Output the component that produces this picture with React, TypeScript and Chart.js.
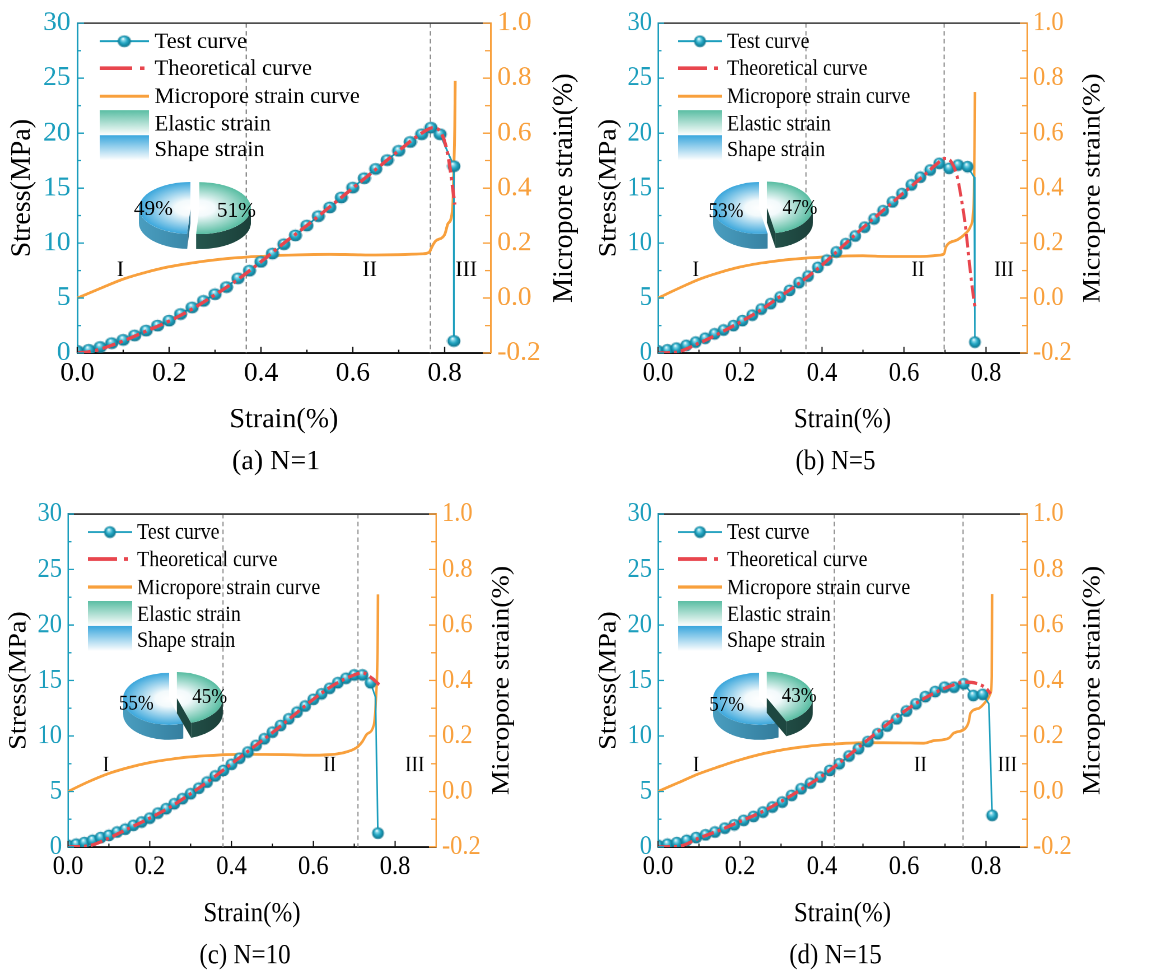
import React, { useEffect, useRef } from 'react';
import { Chart, registerables } from 'chart.js';

Chart.register(...registerables);

const TEAL = '#1c9ebd';
const ORANGE = '#f8a03d';
const RED = '#e8464e';
const SERIF = '"Liberation Serif", "Times New Roman", serif';

// shared tick labels
const strainTicks = [0.0, 0.2, 0.4, 0.6, 0.8];
const stressTicks = [0, 5, 10, 15, 20, 25, 30];
const poreTicks = [-0.2, 0.0, 0.2, 0.4, 0.6, 0.8, 1.0];
const stageNames = ['I', 'II', 'III'];

// (a) N=1
const testStrainA = [0, 0.025, 0.05, 0.075, 0.1, 0.125, 0.15, 0.175, 0.2, 0.225, 0.25, 0.275, 0.3, 0.325, 0.35, 0.375, 0.4, 0.425, 0.45, 0.475, 0.5, 0.525, 0.55, 0.575, 0.6, 0.625, 0.65, 0.675, 0.7, 0.725, 0.75, 0.77, 0.79, 0.82, 0.82];
const testStressA = [0.2, 0.3, 0.55, 0.9, 1.2, 1.6, 2.05, 2.5, 2.95, 3.55, 4.15, 4.75, 5.35, 6.0, 6.8, 7.5, 8.3, 9.05, 9.9, 10.7, 11.6, 12.45, 13.25, 14.15, 15.05, 15.9, 16.75, 17.55, 18.4, 19.2, 19.9, 20.5, 19.9, 17.0, 1.1];
const theoryStrainA = [0, 0.03, 0.05, 0.1, 0.15, 0.2, 0.25, 0.3, 0.35, 0.4, 0.45, 0.5, 0.55, 0.6, 0.65, 0.7, 0.75, 0.775, 0.795, 0.808, 0.816, 0.822];
const theoryStressA = [0, 0.15, 0.35, 1.1, 2.0, 2.9, 4.0, 5.3, 6.7, 8.3, 10.0, 11.6, 13.3, 15.0, 16.7, 18.4, 20.0, 20.5, 19.8, 17.8, 15.5, 13.5];
const poreStrainA = [0, 0.05, 0.1, 0.15, 0.2, 0.25, 0.3, 0.35, 0.4, 0.45, 0.5, 0.55, 0.6, 0.65, 0.7, 0.75, 0.766, 0.773, 0.78, 0.8, 0.807, 0.814, 0.818, 0.82, 0.822, 0.823];
const poreValueA = [0, 0.035, 0.069, 0.094, 0.114, 0.128, 0.139, 0.147, 0.152, 0.156, 0.158, 0.159, 0.158, 0.157, 0.158, 0.161, 0.166, 0.189, 0.207, 0.231, 0.27, 0.29, 0.35, 0.47, 0.62, 0.79];

// (b) N=5
const testStrainB = [0, 0.023, 0.045, 0.069, 0.092, 0.115, 0.138, 0.16, 0.184, 0.206, 0.23, 0.252, 0.275, 0.298, 0.321, 0.344, 0.366, 0.39, 0.412, 0.435, 0.458, 0.481, 0.504, 0.527, 0.549, 0.572, 0.595, 0.618, 0.64, 0.664, 0.686, 0.71, 0.732, 0.755, 0.771, 0.773];
const testStressB = [0.2, 0.3, 0.45, 0.7, 1.0, 1.35, 1.75, 2.1, 2.5, 2.95, 3.45, 4.0, 4.5, 5.1, 5.7, 6.4, 7.0, 7.8, 8.45, 9.2, 9.95, 10.65, 11.45, 12.2, 12.95, 13.75, 14.5, 15.3, 16.0, 16.65, 17.25, 16.8, 17.1, 16.95, 16.0, 1.0];
const theoryStrainB = [0, 0.04, 0.1, 0.15, 0.2, 0.25, 0.3, 0.35, 0.4, 0.45, 0.5, 0.55, 0.6, 0.65, 0.68, 0.7, 0.715, 0.73, 0.74, 0.75, 0.76, 0.768, 0.773];
const theoryStressB = [0, 0.05, 0.9, 1.8, 2.8, 3.9, 5.2, 6.5, 8.0, 9.7, 11.4, 13.0, 14.6, 16.2, 17.2, 17.7, 17.4, 16.0, 14.0, 11.5, 8.0, 5.5, 4.2];
const poreStrainB = [0, 0.05, 0.1, 0.15, 0.2, 0.25, 0.3, 0.35, 0.4, 0.45, 0.5, 0.55, 0.6, 0.65, 0.69, 0.698, 0.702, 0.71, 0.73, 0.75, 0.762, 0.768, 0.771, 0.772, 0.773];
const poreValueB = [0, 0.035, 0.068, 0.093, 0.113, 0.127, 0.137, 0.144, 0.149, 0.153, 0.154, 0.152, 0.151, 0.152, 0.157, 0.162, 0.185, 0.2, 0.212, 0.235, 0.26, 0.3, 0.4, 0.55, 0.75];

// (c) N=10
const testStrainC = [0, 0.02, 0.04, 0.06, 0.08, 0.1, 0.12, 0.14, 0.16, 0.18, 0.2, 0.22, 0.24, 0.26, 0.28, 0.3, 0.32, 0.34, 0.36, 0.38, 0.4, 0.42, 0.44, 0.46, 0.48, 0.5, 0.52, 0.54, 0.56, 0.58, 0.6, 0.62, 0.64, 0.66, 0.68, 0.7, 0.72, 0.74, 0.752, 0.758];
const testStressC = [0.15, 0.25, 0.4, 0.6, 0.85, 1.05, 1.35, 1.6, 1.95, 2.25, 2.6, 3.05, 3.45, 3.9, 4.35, 4.8, 5.3, 5.85, 6.4, 6.9, 7.45, 8.0, 8.55, 9.15, 9.75, 10.35, 10.95, 11.55, 12.15, 12.7, 13.3, 13.8, 14.3, 14.8, 15.2, 15.5, 15.5, 14.8, 13.5, 1.25];
const theoryStrainC = [0, 0.05, 0.1, 0.15, 0.2, 0.25, 0.3, 0.35, 0.4, 0.45, 0.5, 0.55, 0.6, 0.65, 0.7, 0.72, 0.74, 0.762];
const theoryStressC = [0, 0.1, 0.8, 1.7, 2.6, 3.6, 4.8, 6.1, 7.5, 8.9, 10.3, 11.8, 13.3, 14.6, 15.5, 15.7, 15.3, 14.6];
const poreStrainC = [0, 0.05, 0.1, 0.15, 0.2, 0.25, 0.3, 0.35, 0.4, 0.45, 0.5, 0.55, 0.6, 0.65, 0.68, 0.7, 0.71, 0.72, 0.73, 0.745, 0.75, 0.754, 0.757, 0.758];
const poreValueC = [0, 0.035, 0.065, 0.087, 0.104, 0.116, 0.125, 0.13, 0.133, 0.134, 0.133, 0.132, 0.131, 0.134, 0.142, 0.153, 0.163, 0.18, 0.205, 0.227, 0.26, 0.36, 0.5, 0.71];

// (d) N=15
const testStrainD = [0, 0.023, 0.046, 0.07, 0.093, 0.116, 0.139, 0.163, 0.186, 0.209, 0.233, 0.256, 0.279, 0.303, 0.326, 0.349, 0.372, 0.396, 0.419, 0.442, 0.466, 0.489, 0.512, 0.536, 0.559, 0.582, 0.606, 0.629, 0.652, 0.676, 0.699, 0.722, 0.746, 0.769, 0.792, 0.807, 0.815];
const testStressD = [0.15, 0.25, 0.4, 0.6, 0.85, 1.1, 1.35, 1.7, 2.0, 2.4, 2.75, 3.15, 3.6, 4.05, 4.65, 5.25, 5.75, 6.3, 6.9, 7.5, 8.2, 8.85, 9.5, 10.2, 10.9, 11.55, 12.25, 12.9, 13.55, 14.0, 14.4, 14.4, 14.7, 13.65, 13.75, 12.9, 2.85];
const theoryStrainD = [0, 0.05, 0.1, 0.15, 0.2, 0.25, 0.3, 0.35, 0.4, 0.45, 0.5, 0.55, 0.6, 0.65, 0.7, 0.75, 0.78, 0.8, 0.811];
const theoryStressD = [0, 0.05, 0.8, 1.5, 2.3, 3.1, 4.1, 5.2, 6.4, 7.8, 9.3, 10.8, 12.2, 13.4, 14.3, 14.85, 14.7, 14.3, 13.8];
const poreStrainD = [0, 0.05, 0.1, 0.15, 0.2, 0.25, 0.3, 0.35, 0.4, 0.45, 0.5, 0.55, 0.6, 0.648, 0.672, 0.709, 0.721, 0.75, 0.758, 0.762, 0.783, 0.803, 0.811, 0.814, 0.815];
const poreValueD = [0, 0.032, 0.064, 0.09, 0.114, 0.134, 0.149, 0.16, 0.168, 0.173, 0.176, 0.176, 0.175, 0.174, 0.183, 0.192, 0.21, 0.228, 0.252, 0.282, 0.3, 0.33, 0.354, 0.415, 0.711];

// stage boundaries, stage label spots, pie shares
const stageBoundsA = [0.368, 0.769];
const stageBoundsB = [0.361, 0.698];
const stageBoundsC = [0.379, 0.709];
const stageBoundsD = [0.43, 0.744];
const stageLabelXA = [0.094, 0.637, 0.847];
const stageLabelXB = [0.092, 0.634, 0.844];
const stageLabelXC = [0.093, 0.64, 0.848];
const stageLabelXD = [0.093, 0.64, 0.852];
const elasticShare = [51, 47, 45, 43];
const shapeShare = [49, 53, 55, 57];

// the source figure is stretched vertically; draw in logical units and scale
const SY = 1.12;

type Panel = {
  title: string;
  test: [number[], number[]];
  noMarker: number[];
  theory: [number[], number[]];
  pore: [number[], number[]];
  bounds: number[];
  labelX: number[];
  labelY: number;
  elastic: number;
  shape: number;
  left: number;
  top: number;
  width: number;
  height: number;
  sx: number;
  padTop: number;
  leftW: number;
  rightW: number;
  bottomH: number;
};

const panels: Panel[] = [
  {
    title: '(a) N=1', test: [testStrainA, testStressA], noMarker: [], theory: [theoryStrainA, theoryStressA],
    pore: [poreStrainA, poreValueA], bounds: stageBoundsA, labelX: stageLabelXA, labelY: 7.5,
    elastic: elasticShare[0], shape: shapeShare[0],
    left: 0, top: 0, width: 525, height: 437, sx: 1.12, padTop: 18.8, leftW: 69, rightW: 87, bottomH: 121.8,
  },
  {
    title: '(b) N=5', test: [testStrainB, testStressB], noMarker: [34], theory: [theoryStrainB, theoryStressB],
    pore: [poreStrainB, poreValueB], bounds: stageBoundsB, labelX: stageLabelXB, labelY: 7.5,
    elastic: elasticShare[1], shape: shapeShare[1],
    left: 588, top: 0, width: 588, height: 437, sx: 1, padTop: 18.8, leftW: 70, rightW: 149, bottomH: 121.8,
  },
  {
    title: '(c) N=10', test: [testStrainC, testStressC], noMarker: [38], theory: [theoryStrainC, theoryStressC],
    pore: [poreStrainC, poreValueC], bounds: stageBoundsC, labelX: stageLabelXC, labelY: 7.35,
    elastic: elasticShare[2], shape: shapeShare[2],
    left: 0, top: 489, width: 588, height: 437, sx: 1, padTop: 22.3, leftW: 68, rightW: 152, bottomH: 117.4,
  },
  {
    title: '(d) N=15', test: [testStrainD, testStressD], noMarker: [35], theory: [theoryStrainD, theoryStressD],
    pore: [poreStrainD, poreValueD], bounds: stageBoundsD, labelX: stageLabelXD, labelY: 7.35,
    elastic: elasticShare[3], shape: shapeShare[3],
    left: 588, top: 489, width: 588, height: 437, sx: 1, padTop: 22.3, leftW: 70, rightW: 149, bottomH: 117.4,
  },
];

let sphereCache: HTMLCanvasElement | null = null;
function sphere(): HTMLCanvasElement {
  if (sphereCache) return sphereCache;
  const c = document.createElement('canvas');
  c.width = 13;
  c.height = 12;
  const g = c.getContext('2d')!;
  g.save();
  g.translate(6.5, 6);
  g.scale(1, 5.3 / 5.9);
  const grad = g.createRadialGradient(-1.3, -2.5, 0.3, 0, 0, 5.9);
  grad.addColorStop(0, '#ffffff');
  grad.addColorStop(0.2, '#86d8ea');
  grad.addColorStop(0.55, '#22a5c2');
  grad.addColorStop(1, '#0e7189');
  g.fillStyle = grad;
  g.beginPath();
  g.arc(0, 0, 5.9, 0, Math.PI * 2);
  g.fill();
  g.restore();
  sphereCache = c;
  return c;
}

const xy = (s: [number[], number[]]) => s[0].map((x, i) => ({ x, y: s[1][i] }));

function vText(ctx: CanvasRenderingContext2D, text: string, x: number, y: number) {
  ctx.save();
  ctx.translate(x, y);
  ctx.rotate(-Math.PI / 2);
  ctx.fillText(text, 0, 0);
  ctx.restore();
}

function drawPie(ctx: CanvasRenderingContext2D, cx: number, cy: number, elastic: number, shape: number) {
  const rx = 46, ry = 23.2, depth = 13.4;
  const a0 = -Math.PI / 2;
  const a1 = a0 + (elastic / (elastic + shape)) * Math.PI * 2;
  const a2 = a0 + Math.PI * 2;
  const gMid = (a0 + a1) / 2;
  const slices = [
    { s: a1, e: a2, dx: 0, dy: 0, rim: '#3ba7dc', wall: ['#4a9ec0', '#2a6f8e'], face: '#2b6e8a', text: `${shape}%`, mid: (a1 + a2) / 2 },
    { s: a0, e: a1, dx: 8 * Math.cos(gMid), dy: 8 * Math.sin(gMid) * (ry / rx), rim: '#58bda2', wall: ['#2f6a5f', '#1b403a'], face: '#1d4740', text: `${elastic}%`, mid: gMid },
  ];
  for (const sl of slices) {
    const x = cx + sl.dx, y = cy + sl.dy;
    const faces = [{ t: sl.s, n: sl.s - Math.PI / 2 }, { t: sl.e, n: sl.e + Math.PI / 2 }];
    for (const f of faces) {
      if (Math.sin(f.n) <= 0.01) continue;
      const px = x + rx * Math.cos(f.t), py = y + ry * Math.sin(f.t);
      ctx.beginPath();
      ctx.moveTo(x, y);
      ctx.lineTo(px, py);
      ctx.lineTo(px, py + depth);
      ctx.lineTo(x, y + depth);
      ctx.closePath();
      ctx.fillStyle = sl.face;
      ctx.fill();
    }
    const fronts = [[0, Math.PI], [2 * Math.PI, 3 * Math.PI], [-2 * Math.PI, -Math.PI]];
    for (const [f0, f1] of fronts) {
      const s = Math.max(sl.s, f0), e = Math.min(sl.e, f1);
      if (e <= s) continue;
      const g = ctx.createLinearGradient(x - rx, 0, x + rx, 0);
      g.addColorStop(0, sl.wall[0]);
      g.addColorStop(1, sl.wall[1]);
      ctx.beginPath();
      ctx.ellipse(x, y, rx, ry, 0, s, e, false);
      ctx.ellipse(x, y + depth, rx, ry, 0, e, s, true);
      ctx.closePath();
      ctx.fillStyle = g;
      ctx.fill();
    }
    ctx.save();
    ctx.translate(x, y);
    ctx.scale(1, ry / rx);
    const rg = ctx.createRadialGradient(0, 0, 0, 0, 0, rx);
    rg.addColorStop(0, '#ffffff');
    rg.addColorStop(0.3, '#f3fafc');
    rg.addColorStop(1, sl.rim);
    ctx.beginPath();
    ctx.moveTo(0, 0);
    ctx.arc(0, 0, rx, sl.s, sl.e);
    ctx.closePath();
    ctx.fillStyle = rg;
    ctx.fill();
    ctx.restore();
  }
  ctx.fillStyle = '#000';
  ctx.font = `19px ${SERIF}`;
  ctx.textAlign = 'center';
  ctx.textBaseline = 'middle';
  for (const sl of slices) {
    const x = cx + sl.dx + 0.72 * rx * Math.cos(sl.mid);
    const y = cy + sl.dy + 0.7 * ry * Math.sin(sl.mid) + 2;
    ctx.fillText(sl.text, x, y);
  }
}

function decor(p: Panel) {
  return {
    id: 'decor',
    beforeDatasetsDraw(chart: any) {
      const { ctx, chartArea: a, scales } = chart;
      ctx.save();
      ctx.strokeStyle = '#8c8c8c';
      ctx.lineWidth = 1.2;
      ctx.setLineDash([4, 3]);
      for (const b of p.bounds) {
        const x = scales.x.getPixelForValue(b);
        ctx.beginPath();
        ctx.moveTo(x, a.top);
        ctx.lineTo(x, a.bottom);
        ctx.stroke();
      }
      ctx.restore();
    },
    afterDraw(chart: any) {
      const { ctx, chartArea: a, scales } = chart;
      const { x: sX, y: sY, y1: sR } = scales;
      ctx.save();

      // top frame line
      ctx.strokeStyle = '#3a3a3a';
      ctx.lineWidth = 1.4;
      ctx.beginPath();
      ctx.moveTo(a.left, a.top);
      ctx.lineTo(a.right, a.top);
      ctx.stroke();

      // inward tick marks, major and minor
      ctx.lineWidth = 1.2;
      ctx.strokeStyle = '#111';
      for (let i = 0; i < strainTicks.length; i++) {
        const v = strainTicks[i];
        const px = sX.getPixelForValue(v);
        ctx.beginPath(); ctx.moveTo(px, a.bottom); ctx.lineTo(px, a.bottom - 5.5); ctx.stroke();
        const m = sX.getPixelForValue(v + 0.1);
        if (m < a.right - 1) { ctx.beginPath(); ctx.moveTo(m, a.bottom); ctx.lineTo(m, a.bottom - 3); ctx.stroke(); }
      }
      ctx.strokeStyle = TEAL;
      for (let i = 0; i < stressTicks.length; i++) {
        const py = sY.getPixelForValue(stressTicks[i]);
        ctx.beginPath(); ctx.moveTo(a.left, py); ctx.lineTo(a.left + 6, py); ctx.stroke();
        if (i < stressTicks.length - 1) {
          const m = sY.getPixelForValue((stressTicks[i] + stressTicks[i + 1]) / 2);
          ctx.beginPath(); ctx.moveTo(a.left, m); ctx.lineTo(a.left + 3.5, m); ctx.stroke();
        }
      }
      ctx.strokeStyle = ORANGE;
      for (let i = 0; i < poreTicks.length; i++) {
        const py = sR.getPixelForValue(poreTicks[i]);
        ctx.beginPath(); ctx.moveTo(a.right, py); ctx.lineTo(a.right - 7, py); ctx.stroke();
        if (i < poreTicks.length - 1) {
          const m = sR.getPixelForValue((poreTicks[i] + poreTicks[i + 1]) / 2);
          ctx.beginPath(); ctx.moveTo(a.right, m); ctx.lineTo(a.right - 5, m); ctx.stroke();
        }
      }

      // stage labels
      ctx.fillStyle = '#000';
      ctx.font = `19.5px ${SERIF}`;
      ctx.textAlign = 'center';
      ctx.textBaseline = 'middle';
      p.labelX.forEach((v, i) => ctx.fillText(stageNames[i], sX.getPixelForValue(v), sY.getPixelForValue(p.labelY)));

      // inset pie
      drawPie(ctx, a.left + 101, a.top + 165, p.elastic, p.shape);

      // legend
      const lx0 = a.left + 20, lx1 = a.left + 64, tx = a.left + 69;
      const rows = [16.1, 40.2, 65.2, 89.3, 112.5].map((v) => a.top + v);
      ctx.setLineDash([]);
      ctx.strokeStyle = TEAL;
      ctx.lineWidth = 1.6;
      ctx.beginPath(); ctx.moveTo(lx0, rows[0]); ctx.lineTo(lx1, rows[0]); ctx.stroke();
      const sp = sphere();
      ctx.drawImage(sp, (lx0 + lx1) / 2 - sp.width / 2, rows[0] - sp.height / 2);
      ctx.strokeStyle = RED;
      ctx.lineWidth = 3.2;
      ctx.beginPath(); ctx.moveTo(lx0, rows[1]); ctx.lineTo(lx0 + 29, rows[1]); ctx.stroke();
      ctx.beginPath(); ctx.moveTo(lx0 + 36, rows[1]); ctx.lineTo(lx0 + 40, rows[1]); ctx.stroke();
      ctx.strokeStyle = ORANGE;
      ctx.lineWidth = 2.8;
      ctx.beginPath(); ctx.moveTo(lx0, rows[2]); ctx.lineTo(lx1, rows[2]); ctx.stroke();
      const boxes = [
        { y0: a.top + 77.7, c: '#5bbea4' },
        { y0: a.top + 100, c: '#3aa7dd' },
      ];
      for (const b of boxes) {
        const g = ctx.createLinearGradient(0, b.y0, 0, b.y0 + 22.3);
        g.addColorStop(0, b.c);
        g.addColorStop(1, '#ffffff');
        ctx.fillStyle = g;
        ctx.fillRect(lx0, b.y0, lx1 - lx0, 22.3);
      }
      ctx.fillStyle = '#000';
      ctx.font = `20px ${SERIF}`;
      ctx.textAlign = 'left';
      ['Test curve', 'Theoretical curve', 'Micropore strain curve', 'Elastic strain', 'Shape strain'].forEach((t, i) =>
        ctx.fillText(t, tx, rows[i] + 1),
      );

      // axis titles and caption
      ctx.font = `25px ${SERIF}`;
      ctx.textAlign = 'center';
      ctx.textBaseline = 'middle';
      const midY = (a.top + a.bottom) / 2;
      vText(ctx, 'Stress(MPa)', a.left - 49, midY);
      vText(ctx, 'Micropore strain(%)', a.right + 66, midY);
      ctx.fillText('Strain(%)', (a.left + a.right) / 2, a.bottom + 59.8);
      ctx.fillText(p.title, (a.left + a.right) / 2 - 7, a.bottom + 97.3);
      ctx.restore();
    },
  };
}

function PanelChart({ p }: { p: Panel }) {
  const canvasRef = useRef<HTMLCanvasElement>(null);

  useEffect(() => {
    if (!canvasRef.current) return;
    const tickFont = { family: SERIF, size: 24.5 };
    const chart = new Chart(canvasRef.current, {
      type: 'line',
      data: {
        datasets: [
          {
            label: 'Test curve',
            data: xy(p.test),
            yAxisID: 'y',
            borderColor: TEAL,
            borderWidth: 1.6,
            tension: 0,
            pointStyle: sphere(),
            pointRadius: (c: any) => (p.noMarker.includes(c.dataIndex) ? 0 : 5.5),
            pointBorderWidth: 0,
            order: 2,
          },
          {
            label: 'Theoretical curve',
            data: xy(p.theory),
            yAxisID: 'y',
            borderColor: RED,
            borderWidth: 3,
            borderDash: [12, 4, 3, 4],
            pointRadius: 0,
            cubicInterpolationMode: 'monotone',
            order: 1,
          },
          {
            label: 'Micropore strain curve',
            data: xy(p.pore),
            yAxisID: 'y1',
            borderColor: ORANGE,
            borderWidth: 2.5,
            pointRadius: 0,
            cubicInterpolationMode: 'monotone',
            order: 3,
          },
        ],
      } as any,
      options: {
        animation: false,
        responsive: false,
        devicePixelRatio: 2,
        events: [],
        layout: { padding: { top: p.padTop, left: 0, right: 0, bottom: 0 } },
        plugins: { legend: { display: false }, tooltip: { enabled: false } },
        scales: {
          x: {
            type: 'linear',
            position: 'bottom',
            min: 0,
            max: 0.9,
            afterBuildTicks: (s: any) => { s.ticks = strainTicks.map((value) => ({ value })); },
            afterFit: (s: any) => { s.height = p.bottomH; },
            grid: { display: false, drawTicks: false },
            border: { display: true, color: '#111', width: 1.5 },
            ticks: { color: '#000', font: tickFont, padding: 3.5, autoSkip: false, maxRotation: 0, callback: (v: any) => Number(v).toFixed(1) },
          },
          y: {
            position: 'left',
            min: 0,
            max: 30,
            afterBuildTicks: (s: any) => { s.ticks = stressTicks.map((value) => ({ value })); },
            afterFit: (s: any) => { s.width = p.leftW; },
            grid: { display: false, drawTicks: false },
            border: { display: true, color: TEAL, width: 1.5 },
            ticks: { color: TEAL, font: tickFont, padding: 6, callback: (v: any) => String(v) },
          },
          y1: {
            position: 'right',
            min: -0.2,
            max: 1.0,
            afterBuildTicks: (s: any) => { s.ticks = poreTicks.map((value) => ({ value })); },
            afterFit: (s: any) => { s.width = p.rightW; },
            grid: { display: false, drawTicks: false },
            border: { display: true, color: ORANGE, width: 1.5 },
            ticks: { color: ORANGE, font: tickFont, padding: 6, callback: (v: any) => (Math.abs(v) < 1e-9 ? '0.0' : Number(v).toFixed(1)) },
          },
        },
      } as any,
      plugins: [decor(p)],
    });
    return () => chart.destroy();
  }, [p]);

  return (
    <div
      style={{
        position: 'absolute',
        left: p.left,
        top: p.top,
        width: p.width,
        height: p.height,
        transform: `scale(${p.sx}, ${SY})`,
        transformOrigin: '0 0',
      }}
    >
      <canvas ref={canvasRef} width={p.width} height={p.height} style={{ width: p.width, height: p.height }} />
    </div>
  );
}

export default function App() {
  return (
    <div style={{ position: 'absolute', left: 0, top: 0, width: 1176, height: 978, background: '#fff', overflow: 'hidden' }}>
      {panels.map((p) => (
        <PanelChart key={p.title} p={p} />
      ))}
    </div>
  );
}
